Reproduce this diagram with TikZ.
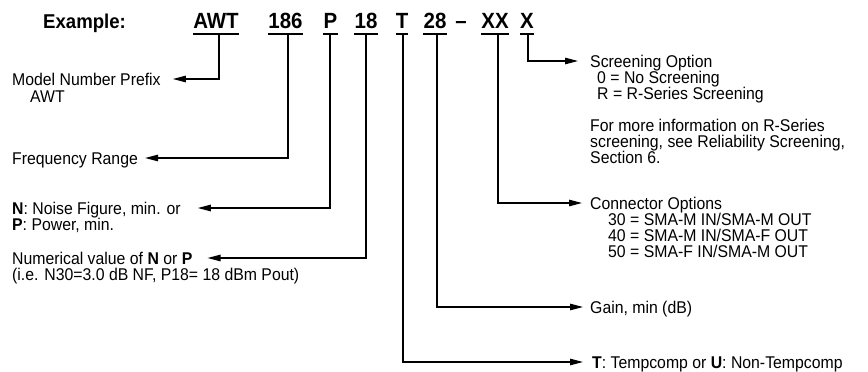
\documentclass[tikz,border=0pt]{standalone}
\usepackage{fontspec}
\setmainfont[FakeStretch=0.93]{Liberation Sans}
\usetikzlibrary{arrows.meta}
\begin{document}
\begin{tikzpicture}[x=1pt,y=-1pt,
  txt/.style={inner sep=0pt, anchor=west, text height=12.2pt, text depth=0pt, font=\fontsize{17}{17}\selectfont},
  part/.style={inner sep=0pt, anchor=base, font=\fontsize{22}{22}\selectfont\bfseries},
  uline/.style={line width=1.3pt},
  conn/.style={line width=1.2pt, -{Triangle[length=13pt,width=6.5pt]}}
]
\useasboundingbox (0,0) rectangle (868,372);
% header
\node[inner sep=0pt, anchor=base west, font=\fontsize{20}{20}\selectfont\bfseries] (ex) at (43,28) {Example:};
\node[part] (pAWT) at (216,28) {AWT};
\node[part] (p186) at (285.5,28) {186};
\node[part] (pP) at (330.5,28) {P};
\node[part] (p18) at (366,28) {18};
\node[part] (pT) at (402,28) {T};
\node[part] (p28) at (435,28) {28};
\node[part] (pdash) at (461,28) {–};
\node[part] (pXX) at (495,28) {XX};
\node[part] (pX) at (527,28) {X};
\foreach \n in {pAWT,p186,pP,p18,pT,p28,pXX,pX}{
  \draw[uline] ([yshift=-6pt]\n.base west) -- ([yshift=-6pt]\n.base east);
}
% connector start points
\coordinate (cAWT) at (219,34);
\coordinate (c186) at (288,34);
\coordinate (cP) at (330,34);
\coordinate (c18) at (366,34);
\coordinate (cT) at (403,34);
\coordinate (c28) at (437,34);
\coordinate (cXX) at (498,34);
\coordinate (cX) at (528,34);
% left texts
\node[txt] (mnp) at (12,79) {Model Number Prefix};
\node[txt] (mnp2) at (30,96) {AWT};
\node[txt] (fr) at (12,158) {Frequency Range};
\node[txt] (nf) at (12,208) {\textbf{N}: Noise Figure, min. or};
\node[txt] (pw) at (12,224) {\textbf{P}: Power, min.};
\node[txt] (nv) at (12,258) {Numerical value of \textbf{N} or \textbf{P}};
\node[txt] (nv2) at (12,274) {(i.e. N30=3.0 dB NF, P18= 18 dBm Pout)};
% right texts
\node[txt] (so) at (590,61) {Screening Option};
\node[txt] (so1) at (597,77) {0 = No Screening};
\node[txt] (so2) at (597,93) {R = R-Series Screening};
\node[txt] (so3) at (590,125) {For more information on R-Series};
\node[txt] (so4) at (590,141) {screening, see Reliability Screening,};
\node[txt] (so5) at (590,157) {Section 6.};
\node[txt] (co) at (590,203) {Connector Options};
\node[txt] (co1) at (608,219) {30 = SMA-M IN/SMA-M OUT};
\node[txt] (co2) at (608,235) {40 = SMA-M IN/SMA-F OUT};
\node[txt] (co3) at (608,251) {50 = SMA-F IN/SMA-M OUT};
\node[txt] (gn) at (590,307) {Gain, min (dB)};
\node[txt] (tc) at (592,362) {\textbf{T}: Tempcomp or \textbf{U}: Non-Tempcomp};
% connectors
\draw[conn, shorten >=12pt] (cAWT) |- (mnp.east);
\draw[conn, shorten >=7pt] (c186) |- (fr.east);
\draw[conn, shorten >=17pt] (cP) |- (nf.east);
\draw[conn, shorten >=15pt] (c18) |- (nv.east);
\draw[conn, shorten >=9pt] (cT) |- (tc.west);
\draw[conn, shorten >=7pt] (c28) |- (gn.west);
\draw[conn, shorten >=8pt] (cXX) |- (co.west);
\draw[conn, shorten >=12pt] (cX) |- (so.west);
\end{tikzpicture}
\end{document}
